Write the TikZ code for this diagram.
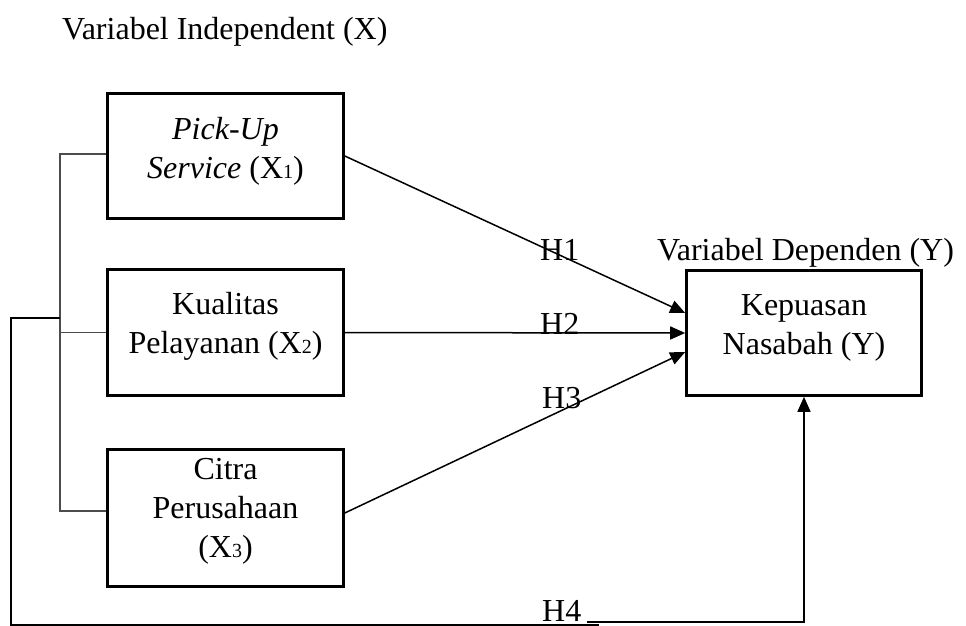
\documentclass[tikz,border=0pt]{standalone}
\usepackage{fontspec}
\setmainfont{Liberation Serif}
\usetikzlibrary{arrows.meta,positioning}
\newcommand{\subnum}[1]{{\fontsize{20}{20}\selectfont #1}}

\begin{document}
\begin{tikzpicture}[x=1pt,y=-1pt,
    box/.style={draw,line width=2.6pt,minimum width=236pt,inner sep=0pt},
    isi/.style={align=center,inner sep=0pt,font=\fontsize{32}{39}\selectfont},
    teks/.style={inner sep=0pt,font=\fontsize{32}{39}\selectfont},
    garis/.style={line width=1.3pt,draw=black!70},
    panah/.style={line width=1.5pt,-{Triangle[length=15pt,width=13pt]}}]
    \useasboundingbox (0,0) rectangle (966,626);

    %Judul
        \node[teks,anchor=base west] (judulx) at (62,40) {Variabel Independent (X)};
        \node[teks,anchor=base west] (juduly) at (657,260) {Variabel Dependen (Y)};

    %Kotak
        \node[box,minimum height=125pt] (x1) at (225.5,156) {};
        \node[box,minimum height=126pt] (x2) at (225.5,332.5) {};
        \node[box,minimum height=137pt] (x3) at (225.5,518) {};
        \node[box,minimum width=235pt,minimum height=125pt] (y) at (804,333) {};

        \node[isi,below=25pt of x1.north] (t1) {\textit{Pick-Up}\\\textit{Service} (X\subnum{1})};
        \node[isi,below=24pt of x2.north] (t2) {Kualitas\\Pelayanan (X\subnum{2})};
        \node[isi,below=10pt of x3.north] (t3) {Citra\\Perusahaan\\(X\subnum{3})};
        \node[isi,below=25pt of y.north] (ty) {Kepuasan\\Nasabah (Y)};

    %Garis kiri
        \coordinate (k1) at (60,154);
        \coordinate (k2) at (60,318);
        \coordinate (k3) at (60,511);
        \draw[garis] (x1.west |- k1) -- (k1) -- (k3) -- (x3.west |- k3);
        \draw[garis] (x2.west) -- (x2.west -| k1);

    %Panah
        \draw[panah] (x1.east) -- ([yshift=20pt]y.west);
        \draw[panah] (x2.east) -- (y.west);
        \draw[panah] ([yshift=5pt]x3.east) -- ([yshift=-19pt]y.west);

        \coordinate (h4a) at (11,318);
        \coordinate (h4b) at (11,625);
        \coordinate (h4c) at (599,625);
        \coordinate (h4d) at (587,622);
        \draw[line width=1.4pt] (k2) -- (h4a) -- (h4b) -- (h4c);
        \draw[panah] (h4d) -| (y.south);

    %Label
        \node[teks,anchor=base west] (h1) at (540,260) {H1};
        \node[teks,anchor=base west] (h2) at (540,334) {H2};
        \node[teks,anchor=base west] (h3) at (542,408) {H3};
        \node[teks,anchor=base west] (h4) at (542,621) {H4};

        %
\end{tikzpicture}
\end{document}
